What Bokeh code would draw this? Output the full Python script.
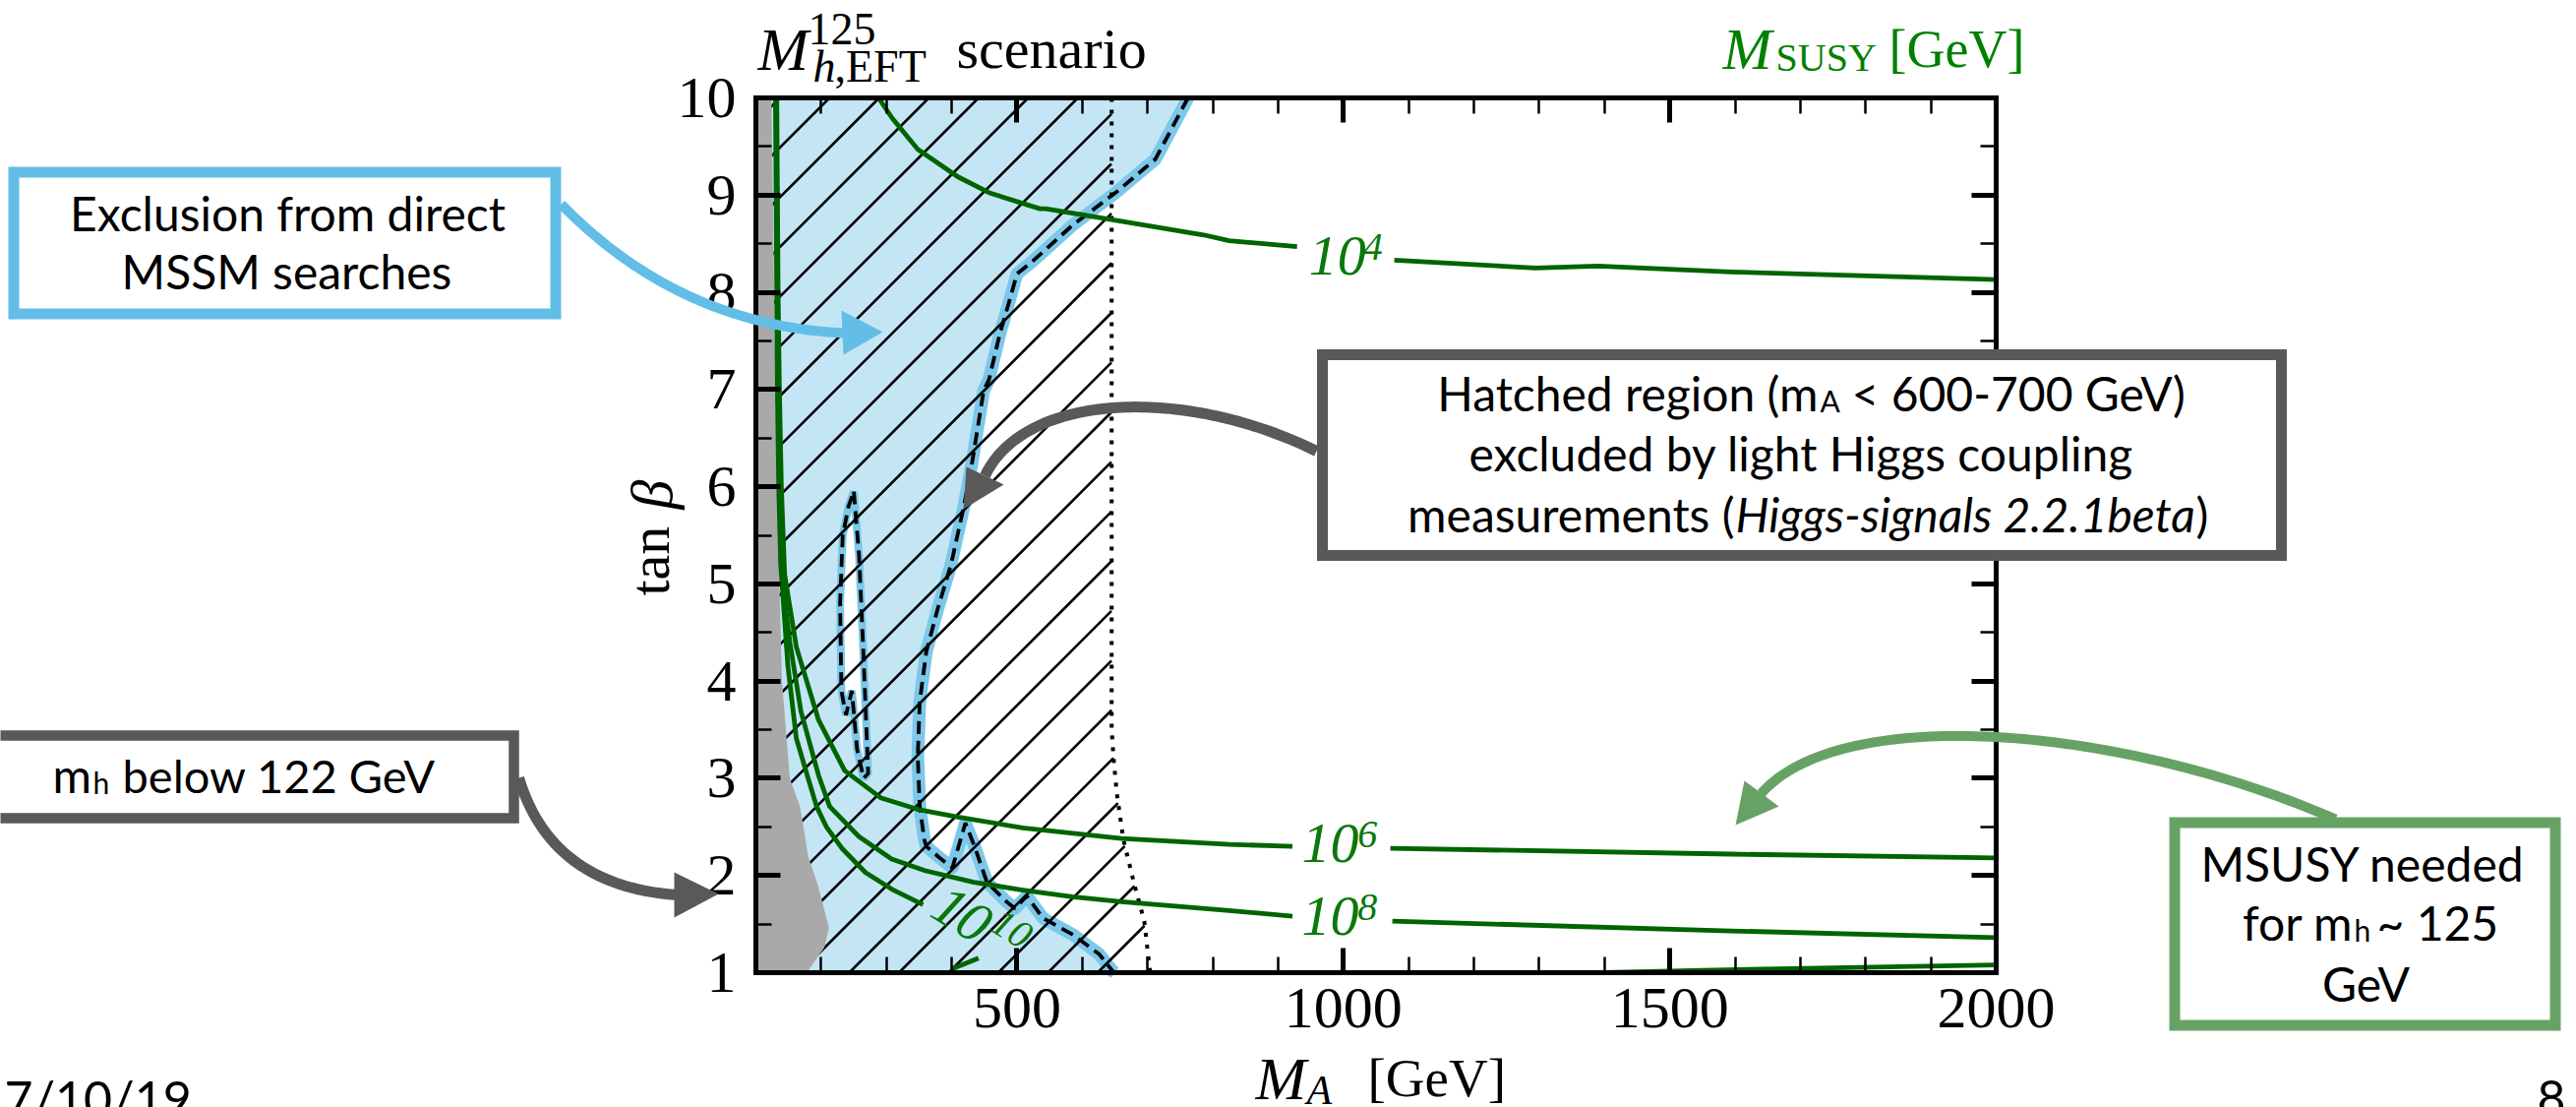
import numpy as np
from bokeh.plotting import figure
from bokeh.models import Range1d, FixedTicker, LinearAxis, Label, PolyAnnotation, CustomJSTickFormatter
from bokeh.core.properties import value
from bokeh.embed import file_html
from bokeh.resources import INLINE

# ---------------- canvas / plot box (pixels) ----------------
W, H = 2619, 1125
BL, BT, BR, BB = 768, 99, 2029, 988          # plot box edges on the canvas
XMIN, XMAX, YMIN, YMAX = 100, 2000, 1, 10

# ---------------- data ----------------
x_ticks = [500, 1000, 1500, 2000]
x_minor = list(range(100, 2001, 100))
y_ticks = list(range(1, 11))
y_minor = [i + 0.5 for i in range(1, 10)]

# right boundary of the direct-search exclusion (dashed line)
excl_x = [762, 712, 652, 585, 524, 500, 487, 474, 457, 449, 432, 419, 399, 378, 361, 351, 348,
          351, 358, 361, 380, 401, 421, 436, 454, 484, 497, 515, 540, 586, 626, 646, 650]
excl_y = [10, 9.37, 9.03, 8.69, 8.32, 8.19, 7.88, 7.58, 7.1, 6.99, 6.28, 5.81, 5.2, 4.73, 4.30, 3.79, 3.22,
          2.71, 2.37, 2.30, 2.19, 2.08, 2.54, 2.28, 1.93, 1.73, 1.66, 1.79, 1.56, 1.39, 1.19, 1.02, 1.0]

# small allowed island inside the exclusion
hole_x = [250, 258, 264, 270, 272, 265, 255, 247, 238, 231, 229, 233, 242]
hole_y = [5.95, 5.3, 4.4, 3.4, 3.05, 3.0, 3.3, 3.9, 3.65, 3.9, 4.8, 5.5, 5.8]

# m_h < 122 GeV region
gray_x = [100, 124, 126, 128, 130, 133, 136, 140, 146, 152, 168, 180, 195, 212, 205, 178, 100]
gray_y = [10, 10, 9, 8, 7, 6, 5, 4, 3.5, 3.0, 2.7, 2.2, 1.9, 1.46, 1.26, 1.0, 1.0]

# Higgs-coupling exclusion boundary (dotted)
dotted_x = [645, 645, 648, 653, 663, 680, 695, 704]
dotted_y = [10, 3.5, 3.2, 2.84, 2.37, 1.90, 1.53, 1.0]

# M_SUSY contours
m4_a_x = [288, 309, 348, 409, 459, 535, 544, 660, 786, 825, 929]
m4_a_y = [10, 9.79, 9.47, 9.19, 9.02, 8.86, 8.86, 8.73, 8.59, 8.53, 8.47]
m4_b_x = [1078, 1294, 1390, 1594, 2000]
m4_b_y = [8.33, 8.25, 8.27, 8.21, 8.13]

m6_a_x = [132, 134, 136, 139, 144, 162, 196, 236, 291, 348, 410, 509, 660, 825, 922]
m6_a_y = [10, 8, 7, 6, 5.1, 4.35, 3.6, 3.08, 2.80, 2.68, 2.60, 2.49, 2.38, 2.32, 2.30]
m6_b_x = [1072, 1594, 2000]
m6_b_y = [2.28, 2.22, 2.18]

m8_a_x = [131, 133, 135, 137, 141, 152, 169, 196, 213, 258, 308, 359, 434, 509, 585, 660, 825, 922]
m8_a_y = [10, 8, 7, 6, 5, 4.4, 3.69, 3.03, 2.71, 2.40, 2.17, 2.05, 1.93, 1.85, 1.78, 1.73, 1.64, 1.58]
m8_b_x = [1075, 1594, 2000]
m8_b_y = [1.53, 1.43, 1.36]

m10_a_x = [130, 132, 133, 135, 138, 149, 162, 180, 193, 208, 233, 268, 308, 356]
m10_a_y = [10, 8, 7, 6, 5.2, 4.16, 3.41, 3.0, 2.71, 2.50, 2.27, 2.03, 1.86, 1.70]
m10_b_x = [401, 441]
m10_b_y = [1.04, 1.15]
m10_c_x = [1400, 1550, 1750, 2000]
m10_c_y = [1.0, 1.025, 1.05, 1.08]

# contour labels: mantissa "10" and exponent
clabel_base = ["10", "10", "10", "10"]
clabel_base_x = [991, 980, 980, 416]
clabel_base_y = [8.38, 2.33, 1.58, 1.60]
clabel_exp = ["4", "6", "8", "10"]
clabel_exp_x = [1045, 1037, 1037, 492]
clabel_exp_y = [8.47, 2.42, 1.67, 1.45]
clabel_angle = [0, 0, 0, -0.56]

# ---------------- figure: the frame covers the whole canvas ----------------
px_per_x = (BR - BL) / (XMAX - XMIN)
px_per_y = (BB - BT) / (YMAX - YMIN)
x_lo = XMIN - BL / px_per_x
x_hi = XMIN + (W - BL) / px_per_x
y_hi = YMAX + BT / px_per_y
y_lo = YMIN - (H - BB) / px_per_y

p = figure(width=W, height=H, x_range=Range1d(x_lo, x_hi), y_range=Range1d(y_lo, y_hi),
           output_backend="svg", toolbar_location=None, title=None,
           min_border=0, min_border_left=0, min_border_right=0, min_border_top=0, min_border_bottom=0,
           background_fill_color="white", border_fill_color="white")
p.grid.visible = False
p.outline_line_color = None

SERIF = "Liberation Serif"
SANS = "Lato"


def style_axis(ax, ticks, minor, loc, bounds, labels=True):
    ax.ticker = FixedTicker(ticks=ticks, minor_ticks=minor)
    ax.fixed_location = loc
    ax.bounds = bounds
    ax.axis_line_width = 5
    ax.axis_line_color = "black"
    ax.axis_line_cap = "square"
    ax.major_tick_in = 25
    ax.major_tick_out = 0
    ax.major_tick_line_width = 5
    ax.minor_tick_in = 16
    ax.minor_tick_out = 0
    ax.minor_tick_line_width = 2.5
    ax.major_label_text_font = SERIF
    ax.major_label_text_font_size = "60px"
    ax.major_label_text_color = "black"
    if not labels:
        ax.formatter = CustomJSTickFormatter(code="return ''")
        ax.major_label_text_font_size = "1px"
        ax.major_label_standoff = 0


style_axis(p.xaxis[0], x_ticks, x_minor, YMIN, (XMIN, XMAX))
style_axis(p.yaxis[0], y_ticks, y_minor, XMIN, (YMIN, YMAX))
p.xaxis[0].major_label_standoff = 16
p.yaxis[0].major_label_standoff = 20
top_ax = LinearAxis()
style_axis(top_ax, x_ticks, x_minor, YMAX, (XMIN, XMAX), labels=False)
p.add_layout(top_ax, "above")
right_ax = LinearAxis()
style_axis(right_ax, y_ticks, y_minor, XMAX, (YMIN, YMAX), labels=False)
p.add_layout(right_ax, "right")

# ---------------- glyphs ----------------
BLUE_FILL = "#c4e6f4"
BLUE_EDGE = "#7cc8ea"
GREEN = "#006400"
LABEL_GREEN = "#0a780a"

p.patch([XMIN, XMIN] + excl_x, [YMIN, YMAX] + excl_y, fill_color=BLUE_FILL, line_color=None)
p.line(excl_x, excl_y, line_color=BLUE_EDGE, line_width=13, line_join="round", line_cap="butt")
p.patch(hole_x, hole_y, fill_color="white", line_color=BLUE_EDGE, line_width=8)

# hatching (45 degrees on screen), clipped to the dotted boundary
k = px_per_y / px_per_x
spacing = 50.5 / px_per_x
tg = np.linspace(YMIN, YMAX, 3000)
xd = np.interp(tg, dotted_y[::-1], dotted_x[::-1])
hx0, hy0, hx1, hy1 = [], [], [], []
for x0 in np.arange(243 - spacing * 40, 720, spacing):
    xl = x0 + k * (tg - YMIN)
    ok = (xl >= XMIN) & (xl <= xd)
    if ok.sum() < 2:
        continue
    idx = np.where(ok)[0]
    a, b = idx[0], idx[-1]
    hx0.append(xl[a]); hy0.append(tg[a]); hx1.append(xl[b]); hy1.append(tg[b])
p.segment(hx0, hy0, hx1, hy1, line_color="black", line_width=2.6)

p.patch(gray_x, gray_y, fill_color="#a9a9a9", line_color=None)

p.line(excl_x, excl_y, line_color="black", line_width=3.8, line_dash="13 7")
p.line(hole_x + hole_x[:1], hole_y + hole_y[:1], line_color="black", line_width=3.8, line_dash="13 7")
p.line(dotted_x, dotted_y, line_color="black", line_width=4, line_dash="4 8")

for xs, ys in [(m4_a_x, m4_a_y), (m4_b_x, m4_b_y), (m6_a_x, m6_a_y), (m6_b_x, m6_b_y),
               (m8_a_x, m8_a_y), (m8_b_x, m8_b_y), (m10_a_x, m10_a_y), (m10_b_x, m10_b_y),
               (m10_c_x, m10_c_y)]:
    p.line(xs, ys, line_color=GREEN, line_width=4.8, line_join="round")

p.text(x=clabel_base_x, y=clabel_base_y, text=clabel_base, angle=clabel_angle,
       text_font=value(SERIF), text_font_style="italic", text_font_size="58px",
       text_color=LABEL_GREEN, text_align="center", text_baseline="middle")
p.text(x=clabel_exp_x, y=clabel_exp_y, text=clabel_exp, angle=clabel_angle,
       text_font=value(SERIF), text_font_style="italic", text_font_size="40px",
       text_color=LABEL_GREEN, text_align="center", text_baseline="middle")

# ---------------- annotations (canvas pixel helpers; frame == canvas) ----------------
FIX = 13   # empirical shift for alphabetic-baseline labels


def lab(text, X, Y, size, font=SANS, align="left", baseline="alphabetic", color="black",
        style="normal", angle=0.0):
    yy = Y - FIX if baseline == "alphabetic" else Y
    p.add_layout(Label(x=X, y=H - yy, x_units="screen", y_units="screen", text=text,
                       text_font=font, text_font_size=f"{size}px", text_font_style=style,
                       text_color=color, text_align=align, text_baseline=baseline, angle=angle))


def poly(Xs, Ys, fill=None, line=None, lw=0.0):
    p.add_layout(PolyAnnotation(xs=[float(x) for x in Xs], ys=[float(H - y) for y in Ys],
                                xs_units="screen", ys_units="screen",
                                fill_color=fill if fill else "white", fill_alpha=1 if fill else 0,
                                line_color=line if line else "white", line_alpha=1 if line else 0,
                                line_width=lw, line_join="miter"))


def box(x0, y0, x1, y1, color, lw):
    poly([x0, x1, x1, x0], [y0, y0, y1, y1], fill="white", line=color, lw=lw)


def bezier(pts, n=80):
    P = np.array(pts, float)
    t = np.linspace(0, 1, n)[:, None]
    if len(P) == 3:
        return (1 - t) ** 2 * P[0] + 2 * (1 - t) * t * P[1] + t ** 2 * P[2]
    return ((1 - t) ** 3 * P[0] + 3 * (1 - t) ** 2 * t * P[1] + 3 * (1 - t) * t ** 2 * P[2]
            + t ** 3 * P[3])


def arrow(ctrl, head, color, w):
    c = bezier(ctrl)
    d = np.gradient(c, axis=0)
    d /= np.linalg.norm(d, axis=1)[:, None]
    nrm = np.stack([-d[:, 1], d[:, 0]], axis=1)
    a = c + nrm * w / 2
    b = c - nrm * w / 2
    pg = np.vstack([a, b[::-1]])
    poly(list(pg[:, 0]), list(pg[:, 1]), fill=color)
    poly([q[0] for q in head], [q[1] for q in head], fill=color)


DGRAY = "#595959"
LBLUE = "#62bee6"
LGREEN = "#67a265"

# boxes
box(13.5, 174.5, 564.5, 318.5, LBLUE, 11)
box(-20, 747, 522, 831, DGRAY, 10.5)
box(1344, 360, 2319, 564, DGRAY, 11)
box(2210.5, 835.5, 2597.5, 1041.5, LGREEN, 11)

# arrows
arrow([(570, 207), (690, 330), (858, 338)], [(897, 337), (855, 315), (857, 360)], LBLUE, 10)
arrow([(527, 790), (560, 900), (688, 909)], [(730, 908), (685, 886), (685, 932)], DGRAY, 11)
arrow([(1338, 458), (1200, 390), (1040, 400), (1001, 483)], [(979, 517), (982, 474), (1020, 492)], DGRAY, 11)
arrow([(2374, 832), (2150, 735), (1870, 715), (1790, 806)], [(1764, 838), (1773, 793), (1808, 819)], LGREEN, 10)

# box texts
lab("Exclusion from direct", 292, 229, 48, align="center")
lab("MSSM searches", 291, 288, 48, align="center")

lab("m", 53, 800, 48)
lab("h", 94, 807, 30)
lab("below 122 GeV", 124, 800, 47)

lab("Hatched region (m", 1848, 412, 48, align="right")
lab("A", 1850, 419, 30)
lab("< 600-700 GeV)", 1882, 412, 48)
lab("excluded by light Higgs coupling", 1831, 473, 48, align="center")
lab("measurements (", 1763, 535, 48, align="right")
lab("Higgs-signals 2.2.1beta", 1764, 535, 48, style="italic")
lab(")", 2232, 535, 48)

lab("MSUSY needed", 2402, 890, 48, align="center")
lab("for m", 2392, 950, 48, align="right")
lab("h", 2393, 957, 30)
lab("~ 125", 2416, 950, 48)
lab("GeV", 2405, 1012, 48, align="center")

lab("7/10/19", 4, 1128, 50)
lab("8", 2579, 1128, 50)

# title and axis labels (serif, math-like)
lab("M", 770, 62, 62, font=SERIF, style="italic")
lab("125", 821, 42, 46, font=SERIF)
lab("h", 826, 80, 46, font=SERIF, style="italic")
lab(",EFT", 848, 80, 46, font=SERIF)
lab("scenario", 972, 62, 58, font=SERIF)

SUSYG = "#008000"
lab("M", 1751, 62, 60, font=SERIF, style="italic", color=SUSYG)
lab("SUSY", 1805, 71, 40, font=SERIF, color=SUSYG)
lab("[GeV]", 1920, 62, 54, font=SERIF, color=SUSYG)

lab("M", 1276, 1108, 62, font=SERIF, style="italic")
lab("A", 1328, 1120, 42, font=SERIF, style="italic")
lab("[GeV]", 1390, 1108, 55, font=SERIF)

# y label: "tan" upright, beta italic, rotated
lab("tan", 660, 605, 58, font=SERIF, align="left", baseline="middle", angle=np.pi / 2)
lab("\u03b2", 662, 517, 60, font=SERIF, align="left", baseline="middle", style="italic", angle=np.pi / 2)

open("out.html", "w").write(file_html(p, INLINE))
